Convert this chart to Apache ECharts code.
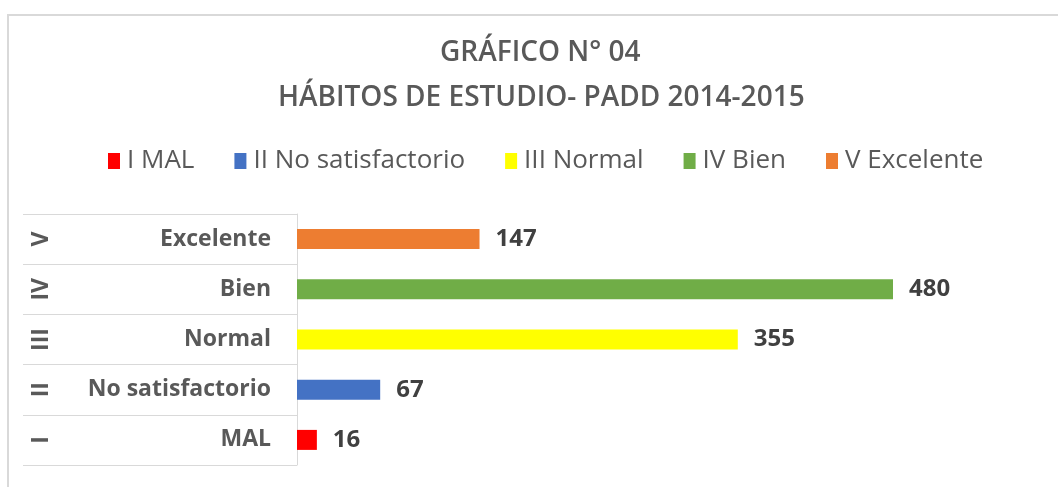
<!DOCTYPE html>
<html>
<head>
<meta charset="utf-8">
<script src="https://cdn.jsdelivr.net/npm/echarts@6/dist/echarts.min.js"></script>
<style>
body { margin: 0; background: #fff; }
#frame {
    position: absolute; left: 7px; top: 14px;
    width: 1060px; height: 480px;
    border-left: 2px solid #d9d9d9; border-top: 2px solid #d9d9d9;
}
#ch { position: absolute; left: 0; top: 0; width: 1058px; height: 487px; }
</style>
</head>
<body>
<div id="frame"></div>
<div id="ch"></div>

<script>
// bottom to top, same order as the legend
var categories = ['MAL', 'No satisfactorio', 'Normal', 'Bien', 'Excelente']
var romans = ['I', 'II', 'III', 'IV', 'V']
var values = [16, 67, 355, 480, 147]
var colors = ['#ff0000', '#4472c4', '#ffff00', '#70ad47', '#ed7d31']

var font = '"Open Sans", sans-serif'
var chartInst = echarts.init(document.getElementById('ch'))

var titleStyle = {
    fontFamily: font,
    fontWeight: 600,
    fontSize: 28,
    color: '#595959'
}

var series = categories.map(function(cat, i) {
    return {
        name: romans[i] + ' ' + cat,
        type: 'bar',
        stack: 'all',
        barWidth: 20,
        itemStyle: { color: colors[i] },
        label: {
            show: true,
            position: 'right',
            distance: 16,
            fontFamily: font,
            fontWeight: 'bold',
            fontSize: 24,
            color: '#404040'
        },
        data: categories.map(function(c, j) {
            return j === i ? values[i] : '-'
        })
    }
})

var option = {
    animation: false,
    title: [{
        text: 'GRÁFICO N° 04',
        left: 440,
        top: 39,
        padding: 0,
        textStyle: titleStyle
    }, {
        text: 'HÁBITOS DE ESTUDIO- PADD 2014-2015',
        left: 278,
        top: 84,
        padding: 0,
        textStyle: titleStyle
    }],
    legend: {
        top: 148,
        left: 108,
        padding: 0,
        itemWidth: 12,
        itemHeight: 16,
        itemGap: 40,
        icon: 'rect',
        textStyle: {
            fontFamily: font,
            fontSize: 26,
            color: '#595959',
            padding: [0, 0, 0, 2]
        },
        data: series.map(function(s) { return s.name })
    },
    grid: { left: 297, right: 16, top: 214, bottom: 22 },
    xAxis: {
        type: 'value',
        min: 0,
        max: 600,
        show: false
    },
    yAxis: [{
        type: 'category',
        data: categories,
        axisLine: { show: true, lineStyle: { color: '#d9d9d9', width: 1 } },
        axisTick: { show: true, length: 274, lineStyle: { color: '#d9d9d9' } },
        axisLabel: {
            margin: 26,
            fontFamily: font,
            fontWeight: 'bold',
            fontSize: 23,
            color: '#595959'
        }
    }, {
        type: 'category',
        position: 'left',
        data: romans,
        axisLine: { show: false },
        axisTick: { show: false },
        axisLabel: {
            margin: 256,
            rotate: 90,
            align: 'center',
            verticalAlign: 'middle',
            fontFamily: font,
            fontWeight: 'bold',
            fontSize: 23,
            color: '#595959'
        }
    }],
    series: series
}
chartInst.setOption(option)
</script>
</body>
</html>
